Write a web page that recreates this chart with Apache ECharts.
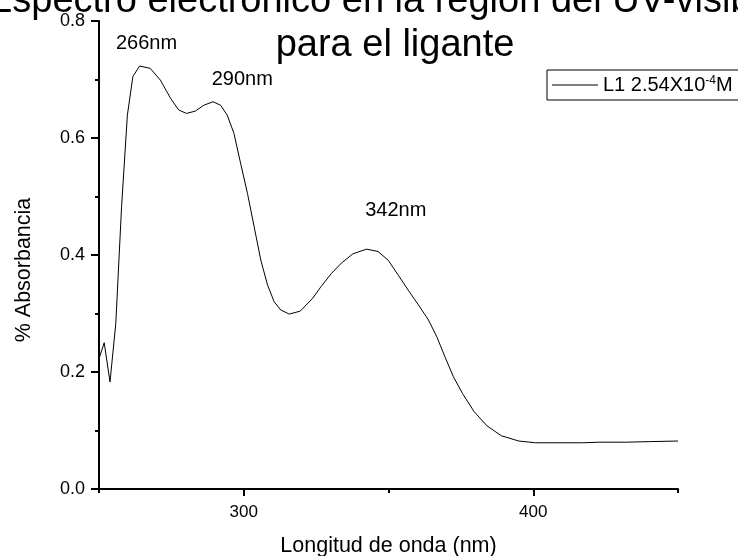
<!DOCTYPE html>
<html><head><meta charset="utf-8">
<script src="https://cdn.jsdelivr.net/npm/echarts@6/dist/echarts.min.js"></script>
<style>html,body{margin:0;padding:0;background:#fff}#c{width:738px;height:556px}</style>
</head><body><div id="c"></div>
<script>
const wavelength = [250, 251.8, 253.8, 255.8, 257.8, 259.8, 261.7, 264, 267.7, 271.2, 274.7, 277.5, 280.2, 283.3, 286.2, 289.4, 292, 294.3, 296.6, 298.9, 301.3, 303.6, 305.9, 308.2, 310.5, 312.8, 315.7, 319.5, 323.8, 326.7, 330.2, 333.7, 337.7, 342.4, 346.4, 349.9, 353.3, 356.8, 360.3, 363.8, 366.7, 369.5, 372.4, 375.6, 379.6, 384.0, 389.0, 395, 400.8, 408.9, 417, 422.8, 432, 440.2, 450];
const absorbance = [0.223, 0.250, 0.183, 0.283, 0.483, 0.639, 0.705, 0.723, 0.719, 0.699, 0.668, 0.648, 0.642, 0.646, 0.656, 0.662, 0.656, 0.639, 0.608, 0.557, 0.505, 0.448, 0.391, 0.349, 0.320, 0.306, 0.299, 0.304, 0.326, 0.346, 0.368, 0.386, 0.402, 0.410, 0.406, 0.391, 0.366, 0.340, 0.315, 0.289, 0.260, 0.226, 0.192, 0.163, 0.132, 0.108, 0.091, 0.082, 0.079, 0.079, 0.079, 0.080, 0.080, 0.081, 0.082];
const xMajorTicks = [300, 400];
const xMinorTicks = [250, 350, 450];
const peakNames = ['266nm', '290nm', '342nm'];
const peakLabelX = [266.4, 299.5, 352.5];
const peakLabelY = [0.761, 0.700, 0.476];
const titleLine1 = 'Espectro electrónico en la región del UV-visible';
const titleLine2 = 'para el ligante';
const seriesName = 'L1 2.54X10-4M';
const xName = 'Longitud de onda (nm)';
const yName = '% Absorbancia';

const FONT = "'Liberation Sans', Arial, sans-serif";
const chart = echarts.init(document.getElementById('c'), null, {renderer: 'canvas'});
const points = wavelength.map((w, i) => [w, absorbance[i]]);
const marks = peakNames.map((n, i) => ({name: n, coord: [peakLabelX[i], peakLabelY[i]]}));

chart.setOption({
  animation: false,
  backgroundColor: '#fff',
  title: [
    {text: titleLine1, left: 384, top: -17, textAlign: 'center', padding: 0,
     textStyle: {fontFamily: FONT, fontSize: 38, fontWeight: 'normal', color: '#000', lineHeight: 38}},
    {text: titleLine2, left: 395, top: 27, textAlign: 'center', padding: 0,
     textStyle: {fontFamily: FONT, fontSize: 38, fontWeight: 'normal', color: '#000', lineHeight: 38}}
  ],
  legend: {
    left: 547, top: 70, orient: 'horizontal',
    padding: [5, 60, 5, 5],
    borderColor: '#000', borderWidth: 1,
    itemWidth: 46, itemHeight: 1,
    data: [{name: seriesName, icon: 'rect'}],
    itemStyle: {color: '#000'},
    formatter: () => '{a|L1 2.54X10}{s|-4}{a|M}',
    textStyle: {
      fontFamily: FONT, fontSize: 20, color: '#000',
      rich: {
        a: {fontFamily: FONT, fontSize: 20, color: '#000', lineHeight: 20},
        s: {fontFamily: FONT, fontSize: 12, color: '#000', lineHeight: 12, verticalAlign: 'top'}
      }
    }
  },
  grid: {left: 99, right: 60, top: 21, bottom: 67, containLabel: false, outerBoundsMode: 'none'},
  xAxis: [
    {
      type: 'value', min: 250, max: 450, position: 'bottom',
      name: xName, nameLocation: 'middle', nameGap: 46,
      nameTextStyle: {fontFamily: FONT, fontSize: 21.5, color: '#000'},
      axisLine: {show: true, onZero: false, lineStyle: {color: '#000', width: 2}},
      axisTick: {show: true, customValues: xMajorTicks, length: 7, inside: false, lineStyle: {color: '#000', width: 2}},
      axisLabel: {show: true, customValues: xMajorTicks, margin: 15, fontFamily: FONT, fontSize: 17, color: '#000'},
      splitLine: {show: false}
    },
    {
      type: 'value', min: 250, max: 450, position: 'bottom', gridIndex: 0,
      axisLine: {show: false},
      axisTick: {show: true, customValues: xMinorTicks, length: 4, inside: false, lineStyle: {color: '#000', width: 2}},
      axisLabel: {show: false},
      splitLine: {show: false}
    }
  ],
  yAxis: {
    type: 'value', min: 0, max: 0.8, interval: 0.2,
    name: yName, nameLocation: 'middle', nameGap: 64, nameRotate: 90,
    nameTextStyle: {fontFamily: FONT, fontSize: 21.5, color: '#000', padding: [0, 30, 0, 0]},
    axisLine: {show: true, onZero: false, lineStyle: {color: '#000', width: 2}},
    axisTick: {show: true, length: 8, inside: false, lineStyle: {color: '#000', width: 2}},
    minorTick: {show: true, splitNumber: 2, length: 4, lineStyle: {color: '#000', width: 2}},
    axisLabel: {margin: 14, fontFamily: FONT, fontSize: 18, color: '#000', formatter: v => v.toFixed(1)},
    splitLine: {show: false}
  },
  series: [{
    name: seriesName, type: 'line', xAxisIndex: 0, data: points,
    symbol: 'none', showSymbol: false, smooth: false,
    lineStyle: {color: '#000', width: 1}, itemStyle: {color: '#000'},
    markPoint: {
      symbol: 'circle', symbolSize: 0,
      label: {show: true, position: 'inside', formatter: p => p.name, fontFamily: FONT, fontSize: 20, color: '#000'},
      data: marks
    }
  }]
});
</script></body></html>
